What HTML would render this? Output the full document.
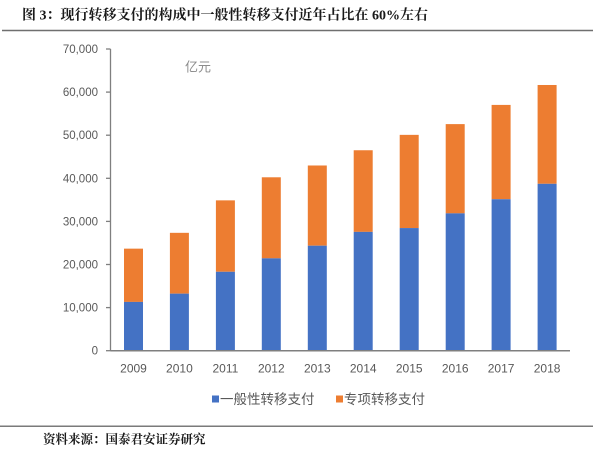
<!DOCTYPE html>
<html>
<head>
<meta charset="utf-8">
<style>
html,body{margin:0;padding:0;background:#fff;}
body{width:600px;height:453px;overflow:hidden;position:relative;}
svg{position:absolute;left:0;top:0;}
</style>
</head>
<body>
<svg width="600" height="453" viewBox="0 0 600 453" xmlns="http://www.w3.org/2000/svg">
  <!-- Title -->
  <text x="22" y="19.5" font-family="'Liberation Serif','Noto Serif CJK SC',serif" font-weight="700" font-size="14" fill="#1a1a1a">图 3：现行转移支付的构成中一般性转移支付近年占比在 60%左右</text>
  <line x1="2" y1="30.5" x2="593" y2="30.5" stroke="#6f6f6f" stroke-width="1.5"/>

  <!-- unit label -->
  <text x="185" y="71.5" font-family="'Liberation Sans','Noto Sans CJK SC',sans-serif" font-size="13" fill="#8c8c8c">亿元</text>

  <!-- Y axis -->
  <g stroke="#7f7f7f" stroke-width="1.3">
    <line x1="110.5" y1="49" x2="110.5" y2="350.7"/>
    <line x1="106" y1="49" x2="110.5" y2="49"/>
    <line x1="106" y1="92.1" x2="110.5" y2="92.1"/>
    <line x1="106" y1="135.2" x2="110.5" y2="135.2"/>
    <line x1="106" y1="178.3" x2="110.5" y2="178.3"/>
    <line x1="106" y1="221.4" x2="110.5" y2="221.4"/>
    <line x1="106" y1="264.5" x2="110.5" y2="264.5"/>
    <line x1="106" y1="307.6" x2="110.5" y2="307.6"/>
    <line x1="106" y1="350.7" x2="110.5" y2="350.7"/>
  </g>
  <g font-family="'Liberation Sans',sans-serif" font-size="11.5" fill="#595959" text-anchor="end">
    <text x="98" y="53">70,000</text>
    <text x="98" y="96.1">60,000</text>
    <text x="98" y="139.2">50,000</text>
    <text x="98" y="182.3">40,000</text>
    <text x="98" y="225.4">30,000</text>
    <text x="98" y="268.5">20,000</text>
    <text x="98" y="311.6">10,000</text>
    <text x="98" y="354.7">0</text>
  </g>

  <!-- Bars: orange (special) -->
  <g fill="#ED7D31">
    <rect x="124" y="248.65" width="19" height="53.27"/>
    <rect x="169.9" y="232.83" width="19" height="60.82"/>
    <rect x="215.9" y="200.36" width="19" height="71.42"/>
    <rect x="261.8" y="177.29" width="19" height="81.05"/>
    <rect x="307.8" y="165.49" width="19" height="80.21"/>
    <rect x="353.7" y="150.25" width="19" height="81.63"/>
    <rect x="399.7" y="134.86" width="19" height="93.2"/>
    <rect x="445.7" y="124.11" width="19" height="89.25"/>
    <rect x="491.6" y="104.91" width="19" height="94.31"/>
    <rect x="537.6" y="84.99" width="19" height="98.82"/>
  </g>
  <!-- Bars: blue (general) -->
  <g fill="#4472C4">
    <rect x="124" y="301.92" width="19" height="48.78"/>
    <rect x="169.9" y="293.65" width="19" height="57.05"/>
    <rect x="215.9" y="271.78" width="19" height="78.92"/>
    <rect x="261.8" y="258.34" width="19" height="92.36"/>
    <rect x="307.8" y="245.7" width="19" height="105"/>
    <rect x="353.7" y="231.88" width="19" height="118.82"/>
    <rect x="399.7" y="228.06" width="19" height="122.64"/>
    <rect x="445.7" y="213.36" width="19" height="137.34"/>
    <rect x="491.6" y="199.22" width="19" height="151.48"/>
    <rect x="537.6" y="183.81" width="19" height="166.89"/>
  </g>

  <!-- X axis -->
  <line x1="110.5" y1="350.7" x2="570" y2="350.7" stroke="#7f7f7f" stroke-width="1.5"/>
  <g font-family="'Liberation Sans',sans-serif" font-size="12" fill="#595959" text-anchor="middle">
    <text x="133.5" y="372.5">2009</text>
    <text x="179.4" y="372.5">2010</text>
    <text x="225.4" y="372.5">2011</text>
    <text x="271.3" y="372.5">2012</text>
    <text x="317.3" y="372.5">2013</text>
    <text x="363.2" y="372.5">2014</text>
    <text x="409.2" y="372.5">2015</text>
    <text x="455.2" y="372.5">2016</text>
    <text x="501.1" y="372.5">2017</text>
    <text x="547.1" y="372.5">2018</text>
  </g>

  <!-- Legend -->
  <rect x="212" y="395.5" width="7" height="7" fill="#4472C4"/>
  <text x="220" y="404" font-family="'Liberation Sans','Noto Sans CJK SC',sans-serif" font-size="13.5" fill="#595959">一般性转移支付</text>
  <rect x="336" y="395.5" width="7" height="7" fill="#ED7D31"/>
  <text x="344" y="404" font-family="'Liberation Sans','Noto Sans CJK SC',sans-serif" font-size="13.5" fill="#595959">专项转移支付</text>

  <!-- Bottom rule and source -->
  <line x1="0" y1="426.3" x2="593" y2="426.3" stroke="#7a7a7a" stroke-width="1.5"/>
  <text x="43" y="443.5" font-family="'Liberation Serif','Noto Serif CJK SC',serif" font-weight="700" font-size="12.5" fill="#1a1a1a">资料来源：国泰君安证券研究</text>
</svg>
</body>
</html>
